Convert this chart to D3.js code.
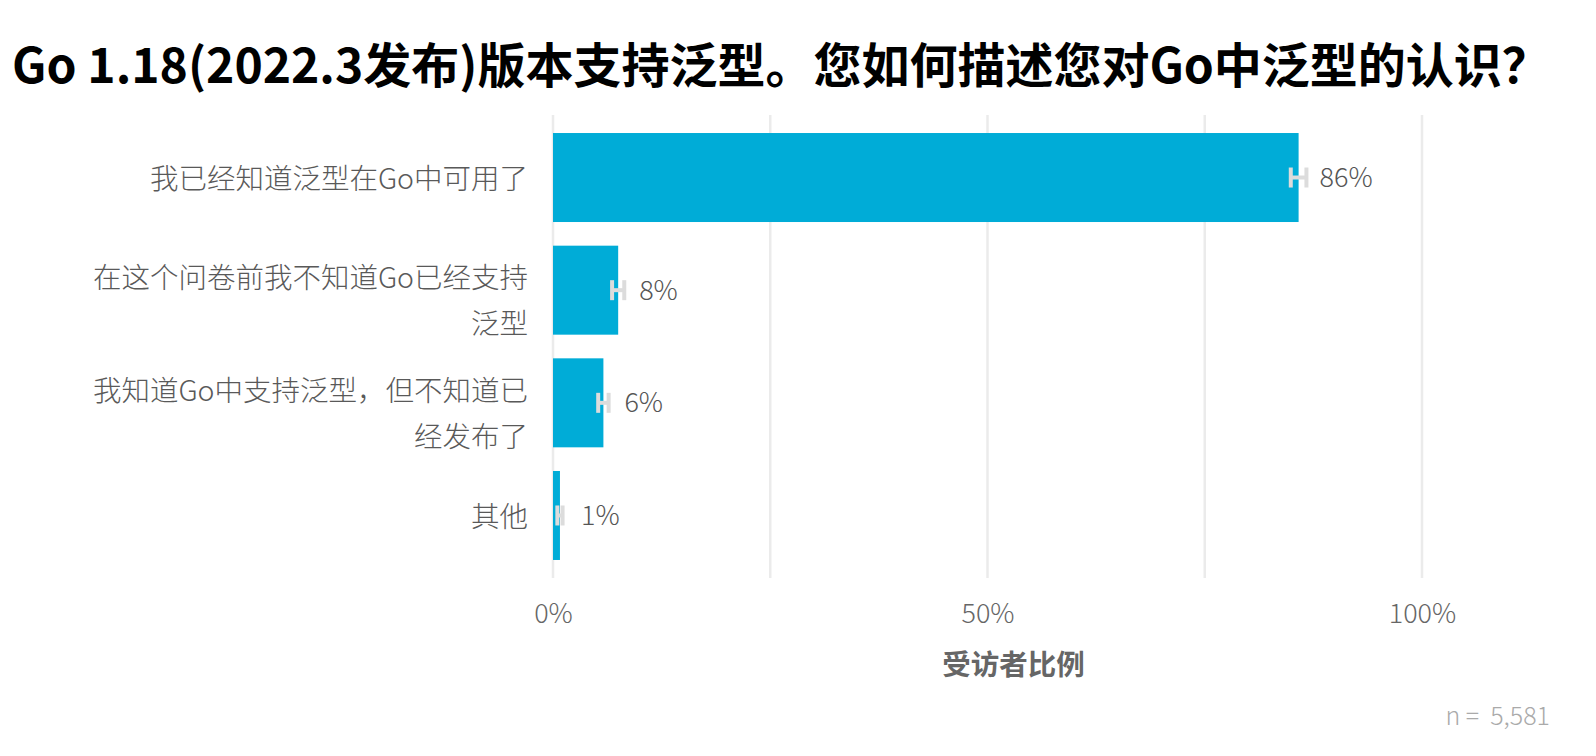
<!DOCTYPE html>
<html>
<head>
<meta charset="utf-8">
<script src="https://cdn.jsdelivr.net/npm/d3@7"></script>
<style>
  html, body { margin: 0; padding: 0; background: #fff; overflow: hidden; }
  svg { display: block; }
  text { font-family: "Noto Sans CJK SC", "Noto Sans", sans-serif; }
</style>
</head>
<body>
<div id="chart"></div>
<script>
// data
var categories = [
  ["我已经知道泛型在Go中可用了"],
  ["在这个问卷前我不知道Go已经支持", "泛型"],
  ["我知道Go中支持泛型，但不知道已", "经发布了"],
  ["其他"]
];
var values = [0.858, 0.075, 0.058, 0.008];
var valueLabels = ["86%", "8%", "6%", "1%"];
var errors = [0.009, 0.007, 0.006, 0.003];
var xTicks = [0, 0.5, 1];
var xGrid = [0, 0.25, 0.5, 0.75, 1];

var svgWidth = 1596;
var svgHeight = 756;

var svg = d3.select("#chart")
  .append("svg")
  .attr("width", svgWidth)
  .attr("height", svgHeight);

var xScale = d3.scaleLinear()
  .domain([0, 1])
  .range([553, 1422]);

var yScale = d3.scaleBand()
  .domain(d3.range(categories.length))
  .range([115, 578])
  .paddingInner(0.21)
  .paddingOuter(0.16);

// grid lines
svg.append("g")
  .selectAll("line")
  .data(xGrid)
  .enter()
  .append("line")
  .attr("x1", d => xScale(d))
  .attr("x2", d => xScale(d))
  .attr("y1", 115)
  .attr("y2", 578)
  .attr("stroke", "#ebebeb")
  .attr("stroke-width", 2.5);

// bars
svg.append("g")
  .selectAll("rect")
  .data(values)
  .enter()
  .append("rect")
  .attr("x", xScale(0))
  .attr("y", (d, i) => yScale(i))
  .attr("width", d => xScale(d) - xScale(0))
  .attr("height", yScale.bandwidth())
  .attr("fill", "#00acd7");

// error bars (small H marks)
var eb = svg.append("g")
  .attr("stroke", "#dcdcdc")
  .attr("stroke-width", 4)
  .attr("fill", "none");

values.forEach(function(v, i) {
  var cy = yScale(i) + yScale.bandwidth() / 2;
  var x0 = xScale(v - errors[i]);
  var x1 = xScale(v + errors[i]);
  eb.append("line").attr("x1", x0).attr("x2", x1).attr("y1", cy).attr("y2", cy);
  eb.append("line").attr("x1", x0).attr("x2", x0).attr("y1", cy - 10).attr("y2", cy + 10);
  eb.append("line").attr("x1", x1).attr("x2", x1).attr("y1", cy - 10).attr("y2", cy + 10);
});

// value labels
svg.append("g")
  .selectAll("text")
  .data(values)
  .enter()
  .append("text")
  .attr("x", d => xScale(d) + 21)
  .attr("y", (d, i) => yScale(i) + yScale.bandwidth() / 2)
  .attr("dy", "0.35em")
  .attr("font-size", 27)
  .attr("font-weight", 300)
  .attr("fill", "#555")
  .text((d, i) => valueLabels[i]);

// category labels
var catG = svg.append("g")
  .selectAll("text")
  .data(categories)
  .enter()
  .append("text")
  .attr("text-anchor", "end")
  .attr("font-size", 28.5)
  .attr("font-weight", 300)
  .attr("fill", "#595959");

catG.each(function(lines, i) {
  var cy = yScale(i) + yScale.bandwidth() / 2;
  var start = lines.length > 1 ? cy - 12 : cy + 2;
  d3.select(this).selectAll("tspan")
    .data(lines)
    .enter()
    .append("tspan")
    .attr("x", 528)
    .attr("y", (d, j) => start + j * 46)
    .attr("dy", "0.35em")
    .text(d => d);
});

// x axis tick labels
var xAxis = d3.axisBottom(xScale)
  .tickValues(xTicks)
  .tickFormat(d3.format(".0%"))
  .tickSize(0)
  .tickPadding(16);

var axisG = svg.append("g")
  .attr("transform", "translate(0, 588)")
  .call(xAxis);
axisG.select(".domain").remove();
axisG.selectAll("text")
  .attr("font-size", 27)
  .attr("font-weight", 300)
  .attr("font-family", "\"Noto Sans CJK SC\", sans-serif")
  .attr("fill", "#666");

// axis title
svg.append("text")
  .attr("x", xScale(0.53))
  .attr("y", 665)
  .attr("dy", "0.35em")
  .attr("text-anchor", "middle")
  .attr("font-size", 28.5)
  .attr("font-weight", "bold")
  .attr("fill", "#666")
  .text("受访者比例");

// chart title
svg.append("text")
  .attr("x", 12)
  .attr("y", 66)
  .attr("dy", "0.35em")
  .attr("font-size", 48)
  .attr("font-weight", "bold")
  .attr("fill", "#000")
  .text("Go 1.18(2022.3发布)版本支持泛型。您如何描述您对Go中泛型的认识？");

// sample size
svg.append("text")
  .attr("x", 1550)
  .attr("y", 716)
  .attr("dy", "0.35em")
  .attr("text-anchor", "end")
  .attr("font-size", 25)
  .attr("font-weight", 300)
  .attr("fill", "#aaa")
  .style("white-space", "pre")
  .text("n =  5,581");
</script>
</body>
</html>
